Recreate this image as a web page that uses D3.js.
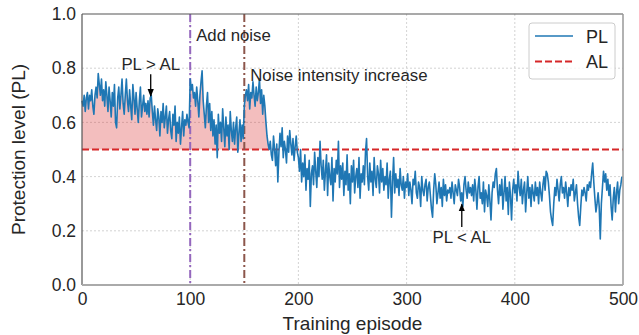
<!DOCTYPE html>
<html>
<head>
<meta charset="utf-8">
<script src="https://cdn.jsdelivr.net/npm/d3@7"></script>
<style>
  body { margin: 0; background: #fff; }
  svg { display: block; font-family: "Liberation Sans", Arial, sans-serif; }
  .tick line { display: none; }
  .domain { display: none; }
  .tick text { fill: #262626; font-size: 17.5px; }
</style>
</head>
<body>
<svg id="chart" width="639" height="335"></svg>
<script>
// protection level per training episode
const plValues = [
  0.68,0.66,0.70,0.64,0.69,0.71,0.65,0.70,0.68,0.72,0.66,0.63,0.70,0.73,0.69,0.78,0.74,0.70,0.76,0.68,
  0.72,0.66,0.75,0.70,0.64,0.73,0.68,0.62,0.71,0.66,0.74,0.60,0.58,0.69,0.73,0.65,0.70,0.76,0.67,0.63,
  0.70,0.76,0.68,0.64,0.72,0.66,0.61,0.74,0.69,0.63,0.71,0.65,0.60,0.68,0.73,0.62,0.66,0.70,0.64,0.67,
  0.63,0.68,0.62,0.69,0.70,0.64,0.59,0.66,0.61,0.57,0.65,0.62,0.55,0.64,0.60,0.67,0.58,0.62,0.66,0.56,
  0.61,0.64,0.57,0.54,0.63,0.59,0.66,0.53,0.60,0.56,0.62,0.52,0.58,0.64,0.55,0.61,0.59,0.63,0.60,0.58,
  0.76,0.72,0.74,0.69,0.71,0.66,0.73,0.68,0.62,0.70,0.75,0.79,0.68,0.63,0.58,0.66,0.71,0.60,0.67,0.57,
  0.64,0.55,0.61,0.52,0.59,0.47,0.63,0.56,0.60,0.53,0.65,0.58,0.51,0.62,0.55,0.59,0.50,0.64,0.57,0.53,
  0.60,0.52,0.58,0.62,0.49,0.56,0.61,0.53,0.59,0.54,
  0.66,0.70,0.72,0.68,0.74,0.65,0.71,0.69,0.75,0.70,0.66,0.73,0.68,0.71,0.76,0.67,0.72,0.63,0.70,0.66,0.60,0.55,
  0.52,0.50,0.53,0.48,0.46,0.55,0.50,0.44,0.52,0.38,0.49,0.56,0.51,0.58,0.47,0.53,0.50,0.45,0.55,0.49,
  0.57,0.52,0.48,0.54,0.46,0.51,0.55,0.49,
  0.47,0.42,0.50,0.38,0.45,0.40,0.48,0.35,0.43,0.39,0.46,0.29,0.41,0.44,0.37,0.49,0.42,0.36,0.47,0.40,
  0.53,0.44,0.39,0.46,0.35,0.42,0.48,0.33,0.45,0.40,0.37,0.47,0.31,0.43,0.38,0.46,0.41,0.53,0.36,0.44,
  0.39,0.45,0.33,0.42,0.37,0.48,0.35,0.41,0.30,0.44,0.38,0.46,0.34,0.40,0.43,0.36,0.47,0.32,0.41,0.38,
  0.44,0.37,0.49,0.54,0.40,0.35,0.45,0.38,0.42,0.33,0.47,0.39,0.36,0.44,0.41,0.34,0.46,0.38,0.43,0.35,
  0.40,0.37,0.45,0.32,0.39,0.42,0.25,0.38,0.47,0.34,0.41,0.36,0.39,0.33,0.43,0.37,0.35,0.40,0.32,0.38,
  0.36,0.41,0.33,0.38,0.35,0.30,0.39,0.37,0.42,0.34,0.32,0.38,0.36,0.29,0.40,0.35,0.33,0.37,0.39,0.31,
  0.36,0.38,0.33,0.28,0.25,0.35,0.41,0.37,0.30,0.34,0.38,0.32,0.36,0.29,0.39,0.33,0.37,0.31,0.35,0.34,
  0.36,0.32,0.38,0.34,0.30,0.37,0.35,0.33,0.39,0.36,0.31,0.34,0.29,0.37,0.40,0.35,0.32,0.38,0.34,0.36,
  0.33,0.37,0.31,0.39,0.35,0.28,0.36,0.40,0.32,0.34,0.30,0.38,0.27,0.35,0.33,0.29,0.37,0.31,0.24,0.34,
  0.38,0.36,0.41,0.43,0.35,0.30,0.37,0.33,0.39,0.28,0.34,0.40,0.31,0.36,0.26,0.38,0.33,0.24,0.35,0.39,
  0.34,0.37,0.31,0.42,0.36,0.33,0.39,0.30,0.35,0.38,0.27,0.34,0.40,0.32,0.36,0.29,0.37,0.34,0.31,0.38,
  0.33,0.36,0.30,0.38,0.34,0.31,0.37,0.40,0.35,0.42,0.41,0.38,0.33,0.27,0.24,0.22,0.30,0.36,0.33,0.39,
  0.35,0.31,0.37,0.40,0.34,0.36,0.32,0.38,0.34,0.29,0.36,0.33,0.37,0.35,0.39,0.31,0.34,0.37,0.30,0.25,
  0.22,0.29,0.35,0.33,0.36,0.34,0.31,0.37,0.35,0.38,0.36,0.41,0.45,0.38,0.32,0.27,0.30,0.34,0.29,0.17,
  0.30,0.36,0.42,0.38,0.41,0.35,0.39,0.33,0.37,0.29,0.24,0.32,0.36,0.27,0.34,0.38,0.30,0.35,0.37,0.40
];
const alLevel = 0.5;
const fillEnd = 175;             // shaded PL > AL region stops here
const eventEpisodes = [100, 150]; // add noise, noise intensity increase
const xTicks = [0, 100, 200, 300, 400, 500];
const yTicks = [0, 0.2, 0.4, 0.6, 0.8, 1.0];

const svg = d3.select('#chart');
const margin = { top: 14, right: 16, bottom: 50, left: 82 };
const width = 639 - margin.left - margin.right;
const height = 335 - margin.top - margin.bottom;

const x = d3.scaleLinear().domain([0, 500]).range([0, width]);
const y = d3.scaleLinear().domain([0, 1]).range([height, 0]);

const g = svg.append('g').attr('transform', `translate(${margin.left},${margin.top})`);

// grid
g.append('g').selectAll('line').data(xTicks.slice(1, -1)).join('line')
  .attr('x1', d => x(d)).attr('x2', d => x(d)).attr('y1', 0).attr('y2', height)
  .attr('stroke', '#c8c8c8').attr('stroke-width', 0.8).attr('stroke-dasharray', '2,2');
g.append('g').selectAll('line').data(yTicks.slice(1, -1)).join('line')
  .attr('x1', 0).attr('x2', width).attr('y1', d => y(d)).attr('y2', d => y(d))
  .attr('stroke', '#c8c8c8').attr('stroke-width', 0.8).attr('stroke-dasharray', '2,2');

// axes
g.append('g').attr('transform', `translate(0,${height})`)
  .call(d3.axisBottom(x).tickValues(xTicks).tickSize(0).tickPadding(8));
g.append('g')
  .call(d3.axisLeft(y).tickValues(yTicks).tickFormat(d3.format('.1f')).tickSize(0).tickPadding(6));

const data = plValues.map((v, i) => ({ ep: i, v }));

// shaded area PL > AL
const area = d3.area()
  .x(d => x(d.ep))
  .y0(y(alLevel))
  .y1(d => y(Math.max(d.v, alLevel)));
g.append('path')
  .datum(data.filter(d => d.ep <= fillEnd))
  .attr('fill', '#d62728').attr('fill-opacity', 0.3)
  .attr('d', area);

// AL line
g.append('line')
  .attr('x1', 0).attr('x2', width).attr('y1', y(alLevel)).attr('y2', y(alLevel))
  .attr('stroke', '#d62728').attr('stroke-width', 2).attr('stroke-dasharray', '7,3');

// event lines
const eventColors = ['#9467bd', '#8c564b'];
g.append('g').selectAll('line').data(eventEpisodes).join('line')
  .attr('x1', d => x(d)).attr('x2', d => x(d)).attr('y1', 0).attr('y2', height)
  .attr('stroke', (d, i) => eventColors[i]).attr('stroke-width', 2)
  .attr('stroke-dasharray', '8,3,2,3');

// PL line
g.append('path')
  .datum(data)
  .attr('fill', 'none').attr('stroke', '#1f77b4').attr('stroke-width', 1.6)
  .attr('stroke-linejoin', 'round')
  .attr('d', d3.line().x(d => x(d.ep)).y(d => y(d.v)));

// spines
g.append('line').attr('x1', 0).attr('x2', width).attr('y1', 0).attr('y2', 0).attr('stroke', '#555').attr('stroke-width', 1.2);
g.append('line').attr('x1', 0).attr('x2', 0).attr('y1', 0).attr('y2', height).attr('stroke', '#555').attr('stroke-width', 1.2);
g.append('line').attr('x1', width).attr('x2', width).attr('y1', 0).attr('y2', height).attr('stroke', '#999').attr('stroke-width', 1.5);
g.append('line').attr('x1', 0).attr('x2', width).attr('y1', height).attr('y2', height).attr('stroke', '#aaa').attr('stroke-width', 2);

// annotations
const txt = (s, ex, ev, anchor) => g.append('text')
  .attr('x', x(ex)).attr('y', y(ev)).attr('text-anchor', anchor)
  .attr('font-size', 16.8).attr('fill', '#262626').text(s);
txt('Add noise', 105.5, 0.9, 'start');
txt('Noise intensity increase', 155.5, 0.752, 'start');
txt('PL > AL', 63.5, 0.795, 'middle');
txt('PL < AL', 351, 0.155, 'middle');

svg.append('defs').append('marker')
  .attr('id', 'arr').attr('viewBox', '0 0 10 10').attr('refX', 9).attr('refY', 5)
  .attr('markerWidth', 6).attr('markerHeight', 6).attr('orient', 'auto')
  .append('path').attr('d', 'M0,1 L10,5 L0,9 Z').attr('fill', '#000');
const arrow = (ex, v1, v2) => g.append('line')
  .attr('x1', x(ex)).attr('x2', x(ex)).attr('y1', y(v1)).attr('y2', y(v2))
  .attr('stroke', '#000').attr('stroke-width', 1.3).attr('marker-end', 'url(#arr)');
arrow(63.5, 0.778, 0.697);
arrow(351, 0.214, 0.298);

// axis titles
svg.append('text')
  .attr('x', margin.left + width / 2).attr('y', 330).attr('text-anchor', 'middle')
  .attr('font-size', 19).attr('fill', '#262626').text('Training episode');
svg.append('text')
  .attr('transform', `translate(25,${margin.top + height / 2}) rotate(-90)`)
  .attr('text-anchor', 'middle')
  .attr('font-size', 19).attr('fill', '#262626').text('Protection level (PL)');

// legend
const lg = svg.append('g').attr('transform', 'translate(529,23)');
lg.append('rect').attr('width', 86).attr('height', 56).attr('rx', 3)
  .attr('fill', '#fff').attr('fill-opacity', 0.8).attr('stroke', '#cccccc');
lg.append('line').attr('x1', 6).attr('x2', 44).attr('y1', 13).attr('y2', 13)
  .attr('stroke', '#1f77b4').attr('stroke-width', 1.6);
lg.append('line').attr('x1', 6).attr('x2', 44).attr('y1', 38.5).attr('y2', 38.5)
  .attr('stroke', '#d62728').attr('stroke-width', 2).attr('stroke-dasharray', '7,3');
lg.append('text').attr('x', 57).attr('y', 19.5).attr('font-size', 18).attr('fill', '#262626').text('PL');
lg.append('text').attr('x', 57).attr('y', 45).attr('font-size', 18).attr('fill', '#262626').text('AL');
</script>
</body>
</html>
